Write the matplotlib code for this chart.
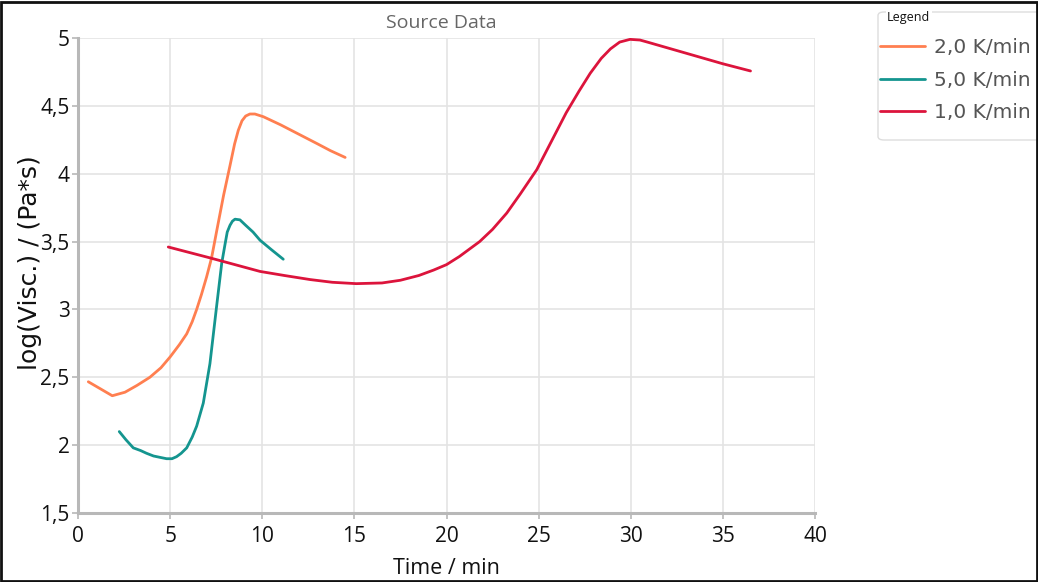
import matplotlib
matplotlib.use("Agg")
import matplotlib.pyplot as plt
from matplotlib.patches import Rectangle, FancyBboxPatch
from matplotlib.ticker import FuncFormatter

# Viscosity curves (time in min, log10 viscosity in Pa*s)
t_2k = [0.56, 1.86, 2.55, 3.2, 3.9, 4.5, 5.0, 5.5, 5.9, 6.2, 6.44, 6.7, 6.98, 7.25, 7.53, 7.9,
        8.25, 8.5, 8.7, 8.9, 9.1, 9.33, 9.6, 10.06, 11.0, 12.0, 13.0, 13.7, 14.5]
v_2k = [2.467, 2.364, 2.39, 2.44, 2.50, 2.57, 2.65, 2.74, 2.82, 2.91, 3.00, 3.11, 3.24, 3.38, 3.58, 3.84,
        4.06, 4.22, 4.32, 4.39, 4.425, 4.44, 4.44, 4.42, 4.36, 4.29, 4.22, 4.17, 4.12]

t_5k = [2.24, 2.6, 3.0, 3.4, 3.72, 4.1, 4.45, 4.81, 5.1, 5.35, 5.6, 5.9, 6.2, 6.44, 6.8, 7.16,
        7.52, 7.8, 7.98, 8.1, 8.25, 8.38, 8.52, 8.79, 9.1, 9.5, 9.88, 10.5, 11.14]
v_5k = [2.10, 2.04, 1.98, 1.96, 1.94, 1.92, 1.91, 1.90, 1.90, 1.915, 1.94, 1.98, 2.06, 2.14, 2.31, 2.60,
        3.02, 3.34, 3.48, 3.57, 3.62, 3.65, 3.665, 3.66, 3.62, 3.57, 3.51, 3.44, 3.37]

t_1k = [4.9, 7.16, 9.88, 11.2, 12.6, 13.8, 15.1, 16.5, 17.5, 18.5, 19.3, 20.0, 20.7, 21.8, 22.5,
        23.27, 24.0, 24.9, 25.7, 26.5, 27.2, 27.8, 28.4, 28.9, 29.4, 29.96, 30.5, 30.9, 35.0, 36.5]
v_1k = [3.46, 3.38, 3.28, 3.25, 3.22, 3.20, 3.19, 3.195, 3.215, 3.25, 3.29, 3.33, 3.39, 3.50, 3.59,
        3.71, 3.85, 4.03, 4.24, 4.45, 4.61, 4.74, 4.85, 4.92, 4.97, 4.99, 4.985, 4.97, 4.81, 4.757]

series_labels = ["2,0 K/min", "5,0 K/min", "1,0 K/min"]
series_colors = ["#ff7f50", "#14958f", "#dc143c"]

x_ticks = [0, 5, 10, 15, 20, 25, 30, 35, 40]
y_ticks = [1.5, 2.0, 2.5, 3.0, 3.5, 4.0, 4.5, 5.0]

plt.rcParams["font.family"] = ["Open Sans", "DejaVu Sans"]

W, H = 1038, 582
fig = plt.figure(figsize=(W / 100, H / 100), dpi=100)
ax = fig.add_axes([78 / W, 1 - 513 / H, (815 - 78) / W, (513 - 38) / H])

lines = []
for t, v, lab, col in zip([t_2k, t_5k, t_1k], [v_2k, v_5k, v_1k], series_labels, series_colors):
    ln, = ax.plot(t, v, color=col, lw=2.0, label=lab, solid_capstyle="round", solid_joinstyle="round")
    lines.append(ln)

ax.set_xlim(0, 40)
ax.set_ylim(1.5, 5.0)
ax.set_xticks(x_ticks)
ax.set_yticks(y_ticks)

def comma_fmt(val, pos):
    s = f"{val:g}"
    return s.replace(".", ",")

ax.xaxis.set_major_formatter(FuncFormatter(comma_fmt))
ax.yaxis.set_major_formatter(FuncFormatter(comma_fmt))

ax.grid(True, color="#e4e4e4", lw=1.2)
ax.set_axisbelow(True)
for side in ["top", "right"]:
    ax.spines[side].set_visible(False)
for side in ["left", "bottom"]:
    ax.spines[side].set_color("#b8b8b8")
    ax.spines[side].set_linewidth(2.2)
ax.tick_params(axis="both", colors="#b8b8b8", labelcolor="#111111", labelsize=15, length=4, width=1.2)
ax.tick_params(axis="x", pad=5)
ax.tick_params(axis="y", pad=2)

ax.set_xlabel("Time / min", fontsize=15.5, color="#111111", labelpad=8)
ax.set_ylabel("log(Visc.) / (Pa*s)", fontsize=18, color="#111111",
              family=["DejaVu Sans"])
ax.yaxis.set_label_coords(-0.049, 0.528)
ax.set_title("Source Data", fontsize=14, color="#666666", pad=7, x=0.4925)

# legend box with its caption sitting on the top border
frame = FancyBboxPatch((878 / W, 1 - 140 / H), (W + 10 - 878) / W, (140 - 12) / H,
                       boxstyle="round,pad=0,rounding_size=0.006", transform=fig.transFigure,
                       facecolor="white", edgecolor="#dddddd", lw=1.0, zorder=1)
fig.patches.append(frame)

leg = fig.legend(handles=lines, loc="upper left", bbox_to_anchor=(880 / W, 1 - 38 / H),
                 frameon=False, prop={"family": "DejaVu Sans", "size": 14.5},
                 handlelength=2.25, handletextpad=0.45,
                 borderpad=0, labelspacing=0.68, borderaxespad=0)
for txt in leg.get_texts():
    txt.set_color("#555555")
fig.text(887 / W, 1 - 17 / H, "Legend", fontsize=9, color="#111111", va="center", ha="left",
         zorder=10, bbox=dict(facecolor="white", edgecolor="none", pad=1.0))

# outer frame of the figure
fig.patches.append(Rectangle((0.001, 0.002), 0.998, 0.995, transform=fig.transFigure,
                             fill=False, edgecolor="#111111", lw=2.0, zorder=20))

fig.savefig("out.png", dpi=100)
